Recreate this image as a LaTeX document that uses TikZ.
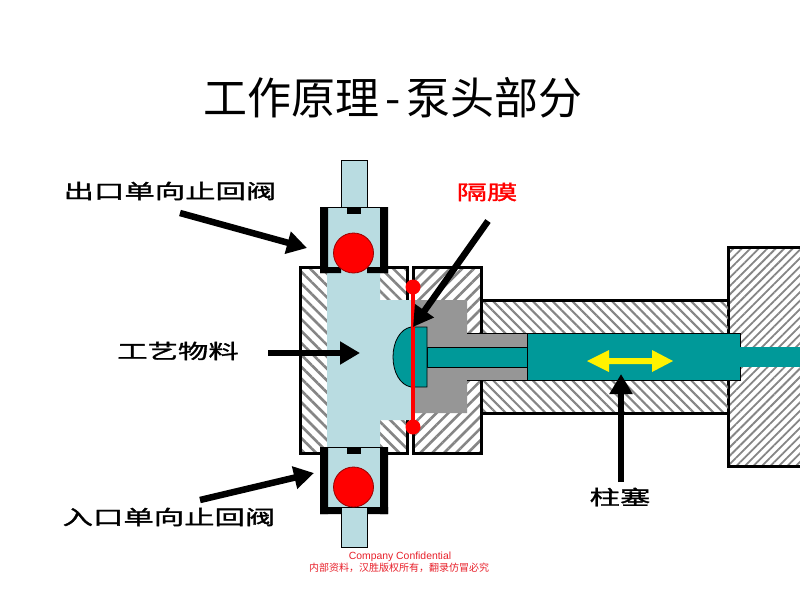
\documentclass[tikz,border=0pt]{standalone}
\usepackage{fontspec}
\usetikzlibrary{patterns.meta,arrows.meta}
\setmainfont{Liberation Sans}
\newfontfamily\cjktitle{Noto Sans CJK SC}
\newfontfamily\cjklabel[FakeStretch=1.52,FakeBold=1.5]{Noto Sans CJK SC}
\newfontfamily\cjkfoot{Noto Sans CJK SC}
\definecolor{fluid}{HTML}{B9DCE1}
\definecolor{teal}{HTML}{009999}
\definecolor{metal}{HTML}{969696}
\definecolor{redtext}{HTML}{E8202A}
\definecolor{hatchline}{HTML}{858585}
\tikzset{
  hatchNW/.style={pattern={Lines[angle=-45,distance=8.4pt,line width=2.6pt]},pattern color=hatchline},
  hatchNE/.style={pattern={Lines[angle=45,distance=8.4pt,line width=2.6pt]},pattern color=hatchline},
  hatchMid/.style={pattern={Lines[angle=-45,distance=7pt,line width=2.1pt]},pattern color=hatchline},
  hatchFine/.style={pattern={Lines[angle=45,distance=6pt,line width=1.8pt]},pattern color=hatchline},
  wall/.style={draw=black,line width=3pt},
  thin edge/.style={draw=black,line width=0.8pt},
  ball/.style={fill=red,draw=red!60!black,line width=0.8pt},
  pointer/.style={line width=6.5pt,-{Triangle[length=20pt,width=22pt]}},
  callout/.style={font=\cjklabel\fontsize{20}{22}\selectfont,inner sep=0pt,anchor=center},
}
\begin{document}
\begin{tikzpicture}[x=1pt,y=-1pt]
\useasboundingbox (0,0) rectangle (800,600);
\fill[white] (0,0) rectangle (800,600);

% crosshead plate on the right, cut off by the edge
\fill[hatchFine] (728,247) rectangle (800,466);
\draw[wall] (800,247) -- (728,247) -- (728,466) -- (800,466);

% cylinder barrel
\fill[hatchMid] (482,300) rectangle (728,413);
\draw[wall] (482,300) -- (728,300) (482,413) -- (728,413);

% pump head, two halves with the diaphragm gap between them
\fill[hatchNE] (413,267) rectangle (481,453);
\draw[wall] (481,333) -- (481,267) -- (413,267) -- (413,453) -- (481,453) -- (481,380);
\fill[hatchNW] (300,267) rectangle (407,454);
\draw[wall] (407,300) -- (407,267) -- (300,267) -- (300,453) -- (407,453) -- (407,420);

% process fluid chamber
\fill[fluid] (327,267) -- (380,267) -- (380,300) -- (411,300) -- (411,420) -- (380,420) -- (380,447) -- (327,447) -- cycle;

% oil cavity behind the diaphragm
\fill[metal] (413,300) -- (467,300) -- (467,333) -- (527,333) -- (527,380) -- (467,380) -- (467,413) -- (413,413) -- cycle;
\draw[black,line width=0.5pt] (467,333) -- (527,333) (467,380) -- (527,380);

% plunger with rod and diaphragm head
\fill[teal,draw=black,line width=0.8pt] (527,333) rectangle (740,380);
\fill[teal,draw=black,line width=0.4pt] (427,347) rectangle (527,367);
\fill[teal] (740,347) rectangle (800,367);
\fill[teal,draw=black,line width=0.8pt] (411,327) -- (427,327) -- (427,387) -- (411,387)
  .. controls (400,385) and (393,372) .. (393,357) .. controls (393,342) and (400,329) .. (411,327) -- cycle;

% diaphragm
\draw[red,line width=3.6pt] (413,287) -- (413,427);
\fill[red] (413,287) circle (7.5);
\fill[red] (413,427) circle (7.5);

% outlet check valve
\fill[fluid,thin edge] (341,160) rectangle (367,208);
\fill[fluid] (327,208) rectangle (380,270);
\fill[black] (320,207) rectangle (328,273) (380,207) rectangle (388,273);
\fill[black] (320,267) rectangle (341,273) (367,267) rectangle (388,273);
\draw[black,line width=0.8pt] (327,207.5) -- (380,207.5);
\fill[black] (347,208) rectangle (361,214);
\draw[ball] (353.5,253) circle (20);

% inlet check valve
\fill[fluid,thin edge] (341,507) rectangle (367,547);
\fill[fluid] (327,447) rectangle (380,507);
\fill[black] (320,447) rectangle (328,514) (380,447) rectangle (388,514);
\fill[black] (320,507) rectangle (341,514) (367,507) rectangle (388,514);
\draw[black,line width=0.8pt] (327,447.5) -- (380,447.5);
\fill[black] (347,448) rectangle (361,454);
\draw[ball] (353.5,487) circle (20);

% stroke direction of the plunger
\fill[yellow] (587,361) -- (609,350) -- (609,358) -- (652,358) -- (652,350) -- (673,361)
  -- (652,372) -- (652,364) -- (609,364) -- (609,372) -- cycle;

% labels
\node[font=\cjktitle\fontsize{44}{48}\selectfont,inner sep=0pt] (title) at (393,98) {工作原理\hspace{6pt}-\hspace{6pt}泵头部分};
\node[callout] (outlet) at (170,191) {出口单向止回阀};
\node[callout] (inlet) at (169,517) {入口单向止回阀};
\node[callout] (fluidlabel) at (178,351) {工艺物料};
\node[callout,text=red] (diaphragm) at (487,192) {隔膜};
\node[callout] (plunger) at (620,497) {柱塞};
\node[inner sep=0pt,text=redtext,font=\fontsize{10.4}{12}\selectfont] (conf) at (400,556.5) {Company Confidential};
\node[inner sep=0pt,text=redtext,font=\cjkfoot\fontsize{10}{12}\selectfont] (notice) at (399,568) {内部资料，汉胜版权所有，翻录仿冒必究};

% leader arrows
\coordinate (a1s) at (180,213); \coordinate (a1e) at (307,248);
\coordinate (a2s) at (488,221); \coordinate (a2e) at (413,327);
\coordinate (a3s) at (268,353); \coordinate (a3e) at (360,353);
\coordinate (a4s) at (200,500); \coordinate (a4e) at (314,473);
\coordinate (a5s) at (621,482); \coordinate (a5e) at (621,374);
\draw[pointer] (a1s) -- (a1e);
\draw[pointer] (a2s) -- (a2e);
\draw[pointer] (a3s) -- (a3e);
\draw[pointer] (a4s) -- (a4e);
\draw[pointer] (a5s) -- (a5e);
\end{tikzpicture}
\end{document}
